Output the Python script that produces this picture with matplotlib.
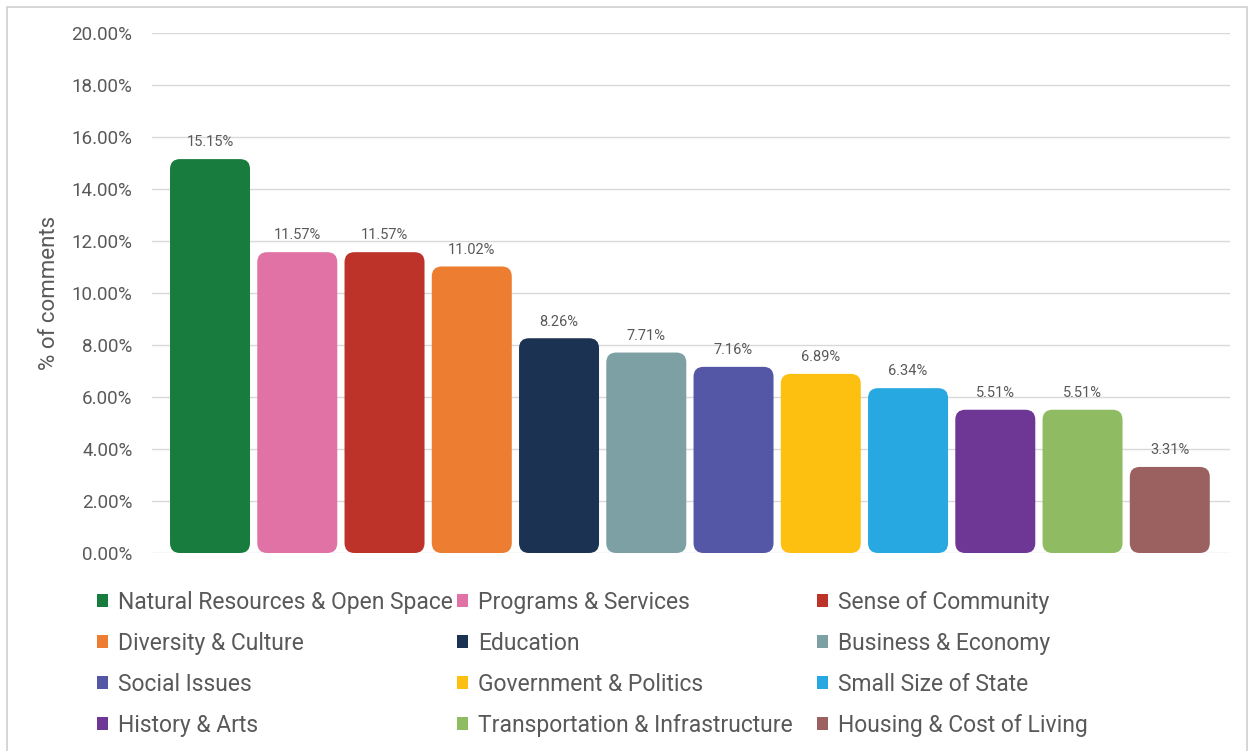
import matplotlib.pyplot as plt
from matplotlib.patches import FancyBboxPatch, Patch, Rectangle

plt.rcParams['font.family'] = ['Roboto', 'DejaVu Sans']

categories = ['Natural Resources & Open Space', 'Programs & Services', 'Sense of Community',
              'Diversity & Culture', 'Education', 'Business & Economy',
              'Social Issues', 'Government & Politics', 'Small Size of State',
              'History & Arts', 'Transportation & Infrastructure', 'Housing & Cost of Living']
pct_comments = [15.15, 11.57, 11.57, 11.02, 8.26, 7.71, 7.16, 6.89, 6.34, 5.51, 5.51, 3.31]
colors = ['#187c3f', '#e172a5', '#be3329', '#ec7d31', '#1b3253', '#7ca0a4',
          '#5457a6', '#fdc010', '#28a8e0', '#6f3795', '#8fbc63', '#9b6161']
yticks = [0, 2, 4, 6, 8, 10, 12, 14, 16, 18, 20]

txt_col = '#595959'
W, H = 1251, 751

fig = plt.figure(figsize=(W / 100, H / 100), dpi=100)
ax = fig.add_axes([152 / W, (H - 553) / H, (1230 - 152) / W, (553 - 33) / H])

# light outline round the whole chart
fig.patches.append(Rectangle((7 / W, -0.02), (1247 - 7) / W, (H - 7) / H + 0.02,
                             transform=fig.transFigure, fill=False,
                             edgecolor='#d0d0d0', lw=1.2))

x = list(range(len(categories)))
bars = ax.bar(x, pct_comments, width=0.917, color=colors, zorder=2)
ax.set_xlim(-0.665, 11.69)
ax.set_ylim(0, 20)

# swap the plain rectangles for rounded ones, corner radius kept circular in pixels
px_x = (1230 - 152) / (11.69 + 0.665)
px_y = (553 - 33) / 20
aspect = px_x / px_y
rad = 10 / px_x
for b in bars:
    rb = FancyBboxPatch((b.get_x(), b.get_y()), b.get_width(), b.get_height(),
                        boxstyle=f'round,pad=0,rounding_size={rad}',
                        mutation_aspect=aspect, facecolor=b.get_facecolor(),
                        edgecolor='none', zorder=2)
    b.set_visible(False)
    ax.add_patch(rb)
    ax.annotate(f'{b.get_height():.2f}%', (b.get_x() + b.get_width() / 2, b.get_height()),
                xytext=(0, 7), textcoords='offset points', ha='center', va='bottom',
                fontsize=10.5, color=txt_col)

ax.set_yticks(yticks)
ax.set_yticklabels([f'{t:.2f}%' for t in yticks], fontsize=13.5, color=txt_col)
ax.set_xticks([])
ax.tick_params(axis='y', length=0, pad=14)
ax.grid(axis='y', color='#d9d9d9', lw=1, zorder=0)
ax.set_axisbelow(True)
for s in ax.spines.values():
    s.set_visible(False)
ax.set_ylabel('% of comments', fontsize=16, color=txt_col, labelpad=8)

# legend laid out row by row, one legend per column
handles = [Patch(facecolor=c, edgecolor='none') for c in colors]
col_x = [97, 457, 817]
for col in range(3):
    idx = [r * 3 + col for r in range(4)]
    leg = fig.legend([handles[i] for i in idx], [categories[i] for i in idx],
                     loc='upper left', bbox_to_anchor=(col_x[col] / W, (H - 591) / H),
                     frameon=False, fontsize=16.5, labelcolor=txt_col,
                     handlelength=0.5, handleheight=0.5, handletextpad=0.42,
                     labelspacing=0.78, borderpad=0, borderaxespad=0)

fig.savefig('out.png', dpi=100)
